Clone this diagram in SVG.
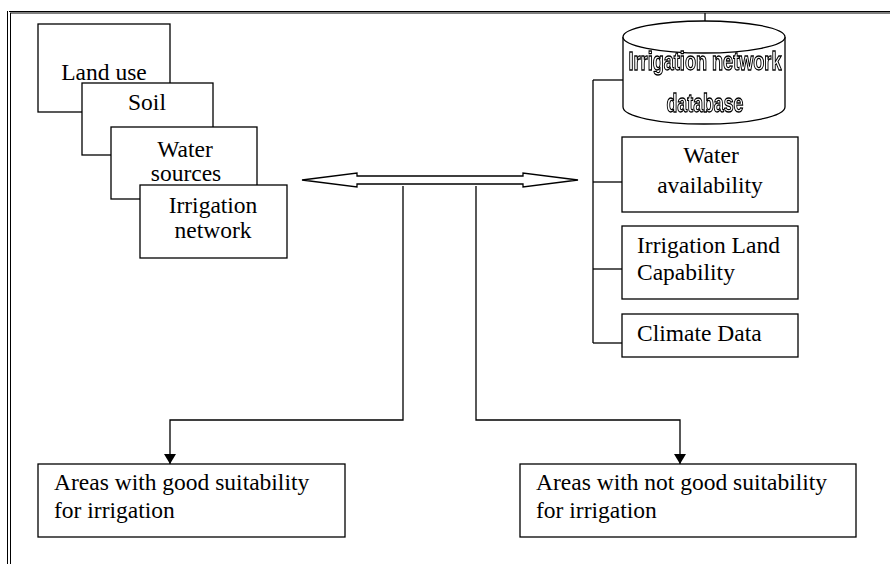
<svg xmlns="http://www.w3.org/2000/svg" width="890" height="564" viewBox="0 0 890 564">
  <style>
    .box { fill: #fff; stroke: #000; stroke-width: 1.3; }
    .wire { fill: none; stroke: #000; stroke-width: 1.3; }
    .lbl { font-family: "Liberation Serif", "Times New Roman", serif; font-size: 23.5px; fill: #000; }
    .mid { text-anchor: middle; }
    .hollow { font-family: "Liberation Sans Narrow", "Liberation Sans", Arial, sans-serif; font-weight: bold; font-size: 26px; fill: #fff; stroke: #000; stroke-width: 1.3; text-anchor: middle; }
  </style>
  <defs>
    <marker id="arrowhead" viewBox="0 0 10 12" refX="10" refY="6" markerWidth="12" markerHeight="12" markerUnits="userSpaceOnUse" orient="auto">
      <path d="M0,0 L10,6 L0,12 z" fill="#000"/>
    </marker>
    <!-- pass-through filter so the outlined lettering is rasterised in greyscale -->
    <filter id="flat" x="0" y="0" width="1" height="1">
      <feColorMatrix type="matrix" values="1 0 0 0 0  0 1 0 0 0  0 0 1 0 0  0 0 0 1 0"/>
    </filter>
  </defs>
  <rect width="890" height="564" fill="#fff"/>

  <!-- page frame: double rule on top and left -->
  <g id="frame" fill="none">
    <line x1="9" y1="11.5" x2="890" y2="11.5" stroke="#000" stroke-width="1"/>
    <line x1="10" y1="13" x2="890" y2="13" stroke="#555" stroke-width="1.5"/>
    <line x1="7.5" y1="11" x2="7.5" y2="564" stroke="#000" stroke-width="1"/>
    <line x1="10.5" y1="13" x2="10.5" y2="564" stroke="#000" stroke-width="1"/>
  </g>

  <!-- connectors -->
  <g id="connectors">
    <!-- two-way exchange arrow -->
    <polygon class="wire" points="302,180 357,173 357,176 523,176 523,173 578,180 523,187 523,184 357,184 357,187"/>
    <!-- branches down to results -->
    <polyline class="wire" points="403,186 403,420 170,420 170,464" stroke-width="1.6" marker-end="url(#arrowhead)"/>
    <polyline class="wire" points="476,186 476,420 680,420 680,464" stroke-width="1.6" marker-end="url(#arrowhead)"/>
    <!-- database bus -->
    <line class="wire" x1="593" y1="80" x2="593" y2="343"/>
    <line class="wire" x1="593" y1="80" x2="623" y2="80"/>
    <line class="wire" x1="593" y1="182" x2="622" y2="182"/>
    <line class="wire" x1="593" y1="269" x2="622" y2="269"/>
    <line class="wire" x1="593" y1="343" x2="622" y2="343"/>
    <line class="wire" x1="705" y1="13" x2="705" y2="21"/>
  </g>

  <!-- stacked input layers -->
  <g id="land-use">
    <rect class="box" x="38" y="24" width="132" height="88"/>
    <text class="lbl mid" x="104" y="80">Land use</text>
  </g>
  <g id="soil">
    <rect class="box" x="82" y="83" width="131" height="72"/>
    <text class="lbl mid" x="147" y="110">Soil</text>
  </g>
  <g id="water-sources">
    <rect class="box" x="111" y="127" width="146" height="72"/>
    <text class="lbl mid" x="185" y="157">Water</text>
    <text class="lbl mid" x="186" y="181">sources</text>
  </g>
  <g id="irrigation-network">
    <rect class="box" x="140" y="185" width="147" height="73"/>
    <text class="lbl mid" x="213" y="213">Irrigation</text>
    <text class="lbl mid" x="213" y="238">network</text>
  </g>

  <!-- database -->
  <g id="irrigation-db">
    <path class="box" d="M623,37 L623,107 A81,17 0 0 0 785,107 L785,37"/>
    <ellipse class="box" cx="704" cy="37" rx="81" ry="16"/>
    <g filter="url(#flat)">
      <text class="hollow" x="705" y="70" textLength="153" lengthAdjust="spacingAndGlyphs">Irrigation network</text>
      <text class="hollow" x="705" y="112" textLength="77" lengthAdjust="spacingAndGlyphs">database</text>
    </g>
  </g>
  <g id="water-availability">
    <rect class="box" x="622" y="137" width="176" height="75"/>
    <text class="lbl mid" x="711" y="163">Water</text>
    <text class="lbl mid" x="710" y="193">availability</text>
  </g>
  <g id="land-capability">
    <rect class="box" x="622" y="226" width="176" height="73"/>
    <text class="lbl" x="637" y="253">Irrigation Land</text>
    <text class="lbl" x="637" y="280">Capability</text>
  </g>
  <g id="climate-data">
    <rect class="box" x="622" y="314" width="176" height="43"/>
    <text class="lbl" x="637" y="341">Climate Data</text>
  </g>

  <!-- results -->
  <g id="good-suitability">
    <rect class="box" x="38" y="464" width="307" height="73"/>
    <text class="lbl" x="54" y="490">Areas with good suitability</text>
    <text class="lbl" x="54" y="518">for irrigation</text>
  </g>
  <g id="not-good-suitability">
    <rect class="box" x="520" y="464" width="336" height="73"/>
    <text class="lbl" x="536" y="490">Areas with not good suitability</text>
    <text class="lbl" x="536" y="518">for irrigation</text>
  </g>
</svg>
